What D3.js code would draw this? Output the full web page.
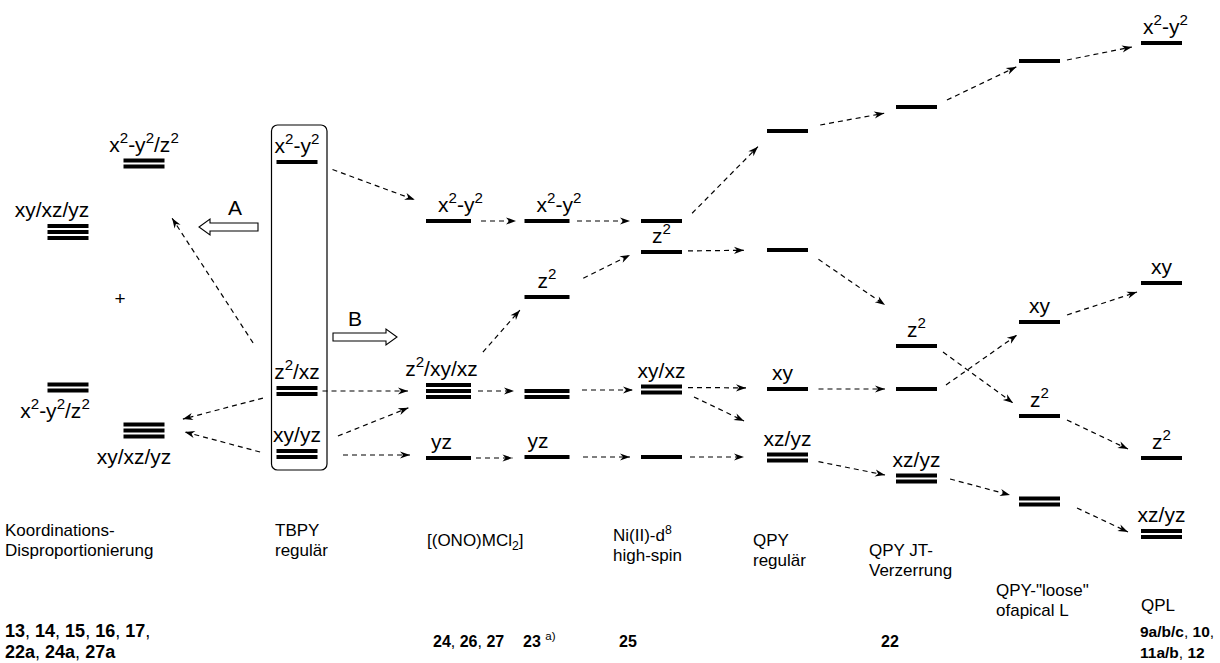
<!DOCTYPE html>
<html>
<head>
<meta charset="utf-8">
<script src="https://cdnjs.cloudflare.com/ajax/libs/d3/7.8.5/d3.min.js"></script>
<style>
  body { margin: 0; background: #fff; }
  svg { display: block; font-family: "Liberation Sans", Arial, Helvetica, sans-serif; }
</style>
</head>
<body>
<svg id="chart" width="1220" height="663"></svg>
<script>
// diagram columns (left to right)
const columns = ['kdA', 'kdB', 'tbpy', 'ono', 'c23', 'ni', 'qpy', 'jt', 'loose', 'qpl'];

// orbital levels: key, column, relative energy, degeneracy, label
const levels = [
  ['kdA1', 'kdA', 32.8, 3, 'xy/xz/yz'],
  ['kdB1', 'kdB', 39.65, 2, 'x^2-y^2/z^2'],
  ['kdA2', 'kdA', 17.25, 2, 'x^2-y^2/z^2'],
  ['kdB2', 'kdB', 12.95, 3, 'xy/xz/yz'],
  ['tb1', 'tbpy', 39.8, 1, 'x^2-y^2'],
  ['tb2', 'tbpy', 16.9, 2, 'z^2/xz'],
  ['tb3', 'tbpy', 10.6, 2, 'xy/yz'],
  ['on1', 'ono', 33.9, 1, 'x^2-y^2'],
  ['on2', 'ono', 16.9, 3, 'z^2/xy/xz'],
  ['on3', 'ono', 10.2, 1, 'yz'],
  ['c1', 'c23', 33.9, 1, 'x^2-y^2'],
  ['c2', 'c23', 26.3, 1, 'z^2'],
  ['c3', 'c23', 16.6, 2, ''],
  ['c4', 'c23', 10.3, 1, 'yz'],
  ['n1', 'ni', 33.9, 1, ''],
  ['n2', 'ni', 30.8, 1, 'z^2'],
  ['n3', 'ni', 17.05, 2, 'xy/xz'],
  ['n4', 'ni', 10.3, 1, ''],
  ['q1', 'qpy', 42.9, 1, ''],
  ['q2', 'qpy', 31.0, 1, ''],
  ['q3', 'qpy', 17.1, 1, 'xy'],
  ['q4', 'qpy', 10.25, 2, 'xz/yz'],
  ['j1', 'jt', 45.3, 1, ''],
  ['j2', 'jt', 21.4, 1, 'z^2'],
  ['j3', 'jt', 17.1, 1, ''],
  ['j4', 'jt', 8.15, 2, 'xz/yz'],
  ['l1', 'loose', 49.9, 1, ''],
  ['l2', 'loose', 23.8, 1, 'xy'],
  ['l3', 'loose', 14.4, 1, 'z^2'],
  ['l4', 'loose', 5.85, 2, ''],
  ['p1', 'qpl', 51.7, 1, 'x^2-y^2'],
  ['p2', 'qpl', 27.7, 1, 'xy'],
  ['p3', 'qpl', 10.2, 1, 'z^2'],
  ['p4', 'qpl', 2.6, 2, 'xz/yz']
];

// correlation arrows: from level, to level
const arrows = [
  ['tb1', 'on1'], ['tb2', 'kdB1'], ['tb2', 'kdB2'], ['tb3', 'kdB2'],
  ['tb2', 'on2'], ['tb3', 'on2'], ['tb3', 'on3'],
  ['on1', 'c1'], ['c1', 'n1'], ['c2', 'n2'], ['on2', 'c2'], ['on2', 'c3'],
  ['c3', 'n3'], ['on3', 'c4'], ['c4', 'n4'],
  ['n1', 'q1'], ['n2', 'q2'], ['n3', 'q3'], ['n3', 'q4'], ['n4', 'q4'],
  ['q1', 'j1'], ['q2', 'j2'], ['q3', 'j3'], ['q4', 'j4'],
  ['j1', 'l1'], ['j2', 'l3'], ['j3', 'l2'], ['j4', 'l4'],
  ['l1', 'p1'], ['l2', 'p2'], ['l3', 'p3'], ['l4', 'p4']
];

// stage names under the columns
const stageNames = [
  ['Koordinations-', 'Disproportionierung'],
  ['TBPY', 'regulär'],
  ['[(ONO)MCl_2]'],
  ['Ni(II)-d^8', 'high-spin'],
  ['QPY', 'regulär'],
  ['QPY JT-', 'Verzerrung'],
  ['QPY-"loose"', 'ofapical L'],
  ['QPL']
];

// compound numbers (*bold*)
const compounds = [
  ['*13*, *14*, *15*, *16*, *17*,', '*22a*, *24a*, *27a*'],
  ['*24*, *26*, *27*'],
  ['*23* ^{a)}'],
  ['*25*'],
  ['*22*'],
  ['*9a/b/c*, *10*,', '*11a/b*, *12*']
];

// ---- layout / style ----
const stagePos = [[5, 536], [275, 536], [427, 546], [613, 541], [753, 546], [869, 556], [996, 596], [1141, 611]];
const compoundPos = [[5, 637], [433, 647], [523, 647], [619, 647], [881, 647], [1140, 637]];
const compoundSizes = [18, 16, 16, 16, 16, 15.5];
const labelBelow = ['kdA2', 'kdB2'];
const labelShift = { kdA1: -16, kdA2: -13, kdB2: -10, on1: 12, c1: 12, p1: 4, on2: -7, on3: -7, c4: -9, q3: -5 };
// arrow trims: start gap, end gap, start dy, end dy
const arrowTrim = [
  [16, 12, 2, -17], [43, 14, -12, 43], [14, 19, 3.5, -6.6], [17, 21, 2.4, -4],
  [5, 18, 0, 0], [22, 19, -9.8, 9.8], [25.5, 16, 1, -3],
  [10, 8.5, 0, 0], [7.5, 11, 0, 0], [15.4, 12.3, -11.8, -2.5], [18, 7, -25.4, 7.9], [7, 10.5, 0, -3],
  [12.5, 8, -4, 0.5], [5, 12, 0, 1], [13.5, 11, 0, 0],
  [14.4, 12.9, 2.5, 6.5], [6, 23, -1, 0], [6, 21, -2, -1], [13.3, 25.5, 1.7, -25.5], [8, 23, 0, -0.5],
  [12.4, 12, -3.8, 4.1], [12.7, 13.3, 2.1, -33.4], [10.5, 11, 0, 0], [10.7, 11.2, 2.1, -1.3],
  [11, 3, -2.2, 4.6], [7.4, 7.4, 1.7, -8.7], [11, 2.4, 2.3, 11.6], [13.5, 9.3, -3, -4.1],
  [7.1, 9.2, 0.4, 2.2], [7.4, 4.2, -4.7, 7.7], [7.7, 14.4, 0.7, -2.8], [18.8, 14.4, -1.5, 4.1]
];

const barH = 4, pitch = 6;
const labelSize = 21, stageSize = 17;

const x = d3.scaleOrdinal().domain(columns)
  .range([68, 144, 297, 448.5, 547, 661.5, 787.5, 916.5, 1039.5, 1161.5]);
const barW = d3.scaleOrdinal().domain(columns)
  .range([41, 41, 41, 45, 45, 41, 41, 41, 41, 41]);
const y = d3.scaleLinear().domain([0, 52]).range([560, 40]);

const svg = d3.select('#chart');
const byKey = new Map(levels.map(d => [d[0], d]));

// writes a string with ^sup, _sub and *bold* parts into a text element
function rich(text, str, fs) {
  let shift = 0;
  str.split(/(\*[^*]+\*|\^\{[^}]*\}|\^\w|_\w)/).filter(Boolean).forEach(tok => {
    let t = tok, size = fs, off = 0, bold = false;
    if (tok[0] === '*') { t = tok.slice(1, -1); bold = true; }
    else if (tok[0] === '^') { t = tok[1] === '{' ? tok.slice(2, -1) : tok.slice(1); size = fs * 0.72; off = -fs * 0.42; }
    else if (tok[0] === '_') { t = tok.slice(1); size = fs * 0.72; off = fs * 0.24; }
    const ts = text.append('tspan').attr('dy', off - shift).attr('font-size', size).text(t);
    if (bold) ts.attr('font-weight', 'bold');
    shift = off;
  });
}

svg.append('defs').append('marker')
  .attr('id', 'head')
  .attr('viewBox', '-11 -5 12 10')
  .attr('refX', 0).attr('refY', 0)
  .attr('markerWidth', 12).attr('markerHeight', 10)
  .attr('markerUnits', 'userSpaceOnUse')
  .attr('orient', 'auto')
  .append('path')
  .attr('d', 'M0,0 L-10,-3.6 L-7,0 L-10,3.6 Z')
  .attr('fill', '#000');

// TBPY frame
const tbE = levels.filter(d => d[1] === 'tbpy').map(d => d[2]);
svg.append('rect')
  .attr('x', x('tbpy') - 25.5)
  .attr('y', y(d3.max(tbE)) - 37)
  .attr('width', 55.5)
  .attr('height', y(d3.min(tbE)) - y(d3.max(tbE)) + 53)
  .attr('rx', 6)
  .attr('fill', 'none')
  .attr('stroke', '#000')
  .attr('stroke-width', 1.2);

// bars
const gBars = svg.append('g').attr('class', 'levels');
levels.forEach(d => {
  const [key, col, e, deg] = d;
  for (let i = 0; i < deg; i++) {
    gBars.append('rect')
      .attr('x', x(col) - barW(col) / 2)
      .attr('y', y(e) + (i - (deg - 1) / 2) * pitch - barH / 2)
      .attr('width', barW(col))
      .attr('height', barH)
      .attr('fill', '#000');
  }
});

// level labels
const gLab = svg.append('g').attr('class', 'level-labels');
levels.filter(d => d[4]).forEach(d => {
  const [key, col, e, deg, label] = d;
  const half = ((deg - 1) * pitch + barH) / 2;
  const below = labelBelow.includes(key);
  const t = gLab.append('text')
    .attr('x', x(col) + (labelShift[key] || 0))
    .attr('y', below ? y(e) + half + 25 : y(e) - half - 7)
    .attr('text-anchor', 'middle')
    .attr('font-size', labelSize);
  rich(t, label, labelSize);
});

// dashed correlation arrows
const gArr = svg.append('g').attr('class', 'arrows');
arrows.forEach((a, i) => {
  const f = byKey.get(a[0]), t = byKey.get(a[1]);
  const [t0, t1, dy0, dy1] = arrowTrim[i];
  const left = x(t[1]) < x(f[1]);
  const p0 = [x(f[1]) + (left ? -1 : 1) * barW(f[1]) / 2, y(f[2]) + dy0];
  const p1 = [x(t[1]) + (left ? 1 : -1) * barW(t[1]) / 2, y(t[2]) + dy1];
  const dx = p1[0] - p0[0], dy = p1[1] - p0[1];
  const len = Math.hypot(dx, dy);
  const ux = dx / len, uy = dy / len;
  gArr.append('line')
    .attr('x1', p0[0] + ux * t0).attr('y1', p0[1] + uy * t0)
    .attr('x2', p1[0] - ux * t1).attr('y2', p1[1] - uy * t1)
    .attr('stroke', '#000')
    .attr('stroke-width', 1.2)
    .attr('stroke-dasharray', '5,4')
    .attr('marker-end', 'url(#head)');
});

// hollow block arrows A and B
function blockArrow(tail, tip, yy) {
  const dir = Math.sign(tip - tail), neck = tip - dir * 11;
  const pts = [[tail, yy - 4], [neck, yy - 4], [neck, yy - 8], [tip, yy], [neck, yy + 8], [neck, yy + 4], [tail, yy + 4]];
  svg.append('path')
    .attr('d', d3.line()(pts) + 'Z')
    .attr('fill', '#fff')
    .attr('stroke', '#000')
    .attr('stroke-width', 1.1);
}
blockArrow(258, 199, 227);
blockArrow(333, 397, 337);
svg.append('text').attr('x', 235).attr('y', 215).attr('text-anchor', 'middle').attr('font-size', labelSize).text('A');
svg.append('text').attr('x', 355).attr('y', 326).attr('text-anchor', 'middle').attr('font-size', labelSize).text('B');
svg.append('text').attr('x', 120).attr('y', 305).attr('text-anchor', 'middle').attr('font-size', 19).text('+');

// stage names
stageNames.forEach((lines, i) => {
  lines.forEach((ln, j) => {
    const t = svg.append('text')
      .attr('x', stagePos[i][0])
      .attr('y', stagePos[i][1] + j * 20)
      .attr('font-size', stageSize)
      .style('white-space', 'pre');
    rich(t, ln, stageSize);
  });
});

// compound numbers
compounds.forEach((lines, i) => {
  lines.forEach((ln, j) => {
    const t = svg.append('text')
      .attr('x', compoundPos[i][0])
      .attr('y', compoundPos[i][1] + j * 21)
      .attr('font-size', compoundSizes[i])
      .style('white-space', 'pre');
    rich(t, ln, compoundSizes[i]);
  });
});
</script>
</body>
</html>
